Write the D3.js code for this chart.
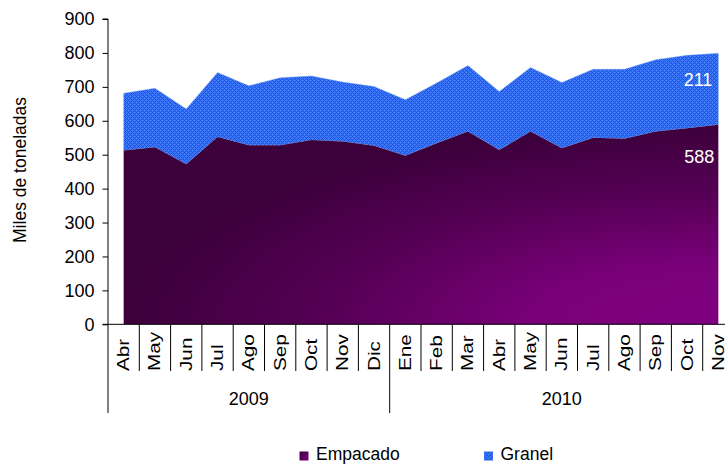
<!DOCTYPE html>
<html>
<head>
<meta charset="utf-8">
<script src="https://cdn.jsdelivr.net/npm/d3@7/dist/d3.min.js"></script>
<style>
  html, body { margin: 0; padding: 0; background: #fff; }
  svg { display: block; font-family: "Liberation Sans", Arial, sans-serif; }
</style>
</head>
<body>
<svg id="chart" width="725" height="464"></svg>
<script>
// ---- data ----
const months = ["Abr","May","Jun","Jul","Ago","Sep","Oct","Nov","Dic",
                "Ene","Feb","Mar","Abr","May","Jun","Jul","Ago","Sep","Oct","Nov"];
const years = ["2009","2010"];
const yearCounts = [9, 11];
const empacado = [512,522,472,552,528,528,543,539,526,
                  497,534,568,514,568,519,550,547,568,578,588];
const granel   = [169,174,163,190,175,199,189,175,175,
                  165,177,195,172,189,194,202,205,212,215,211];
const yTicks = [0,100,200,300,400,500,600,700,800,900];
const seriesNames = ["Empacado","Granel"];

// ---- layout ----
const svg = d3.select("#chart");
const x0 = 108, x1 = 734, yTop = 19, yBot = 324.3;
const idx = months.map((d, i) => i);
const x = d3.scaleBand().domain(idx).range([x0, x1]).padding(0);
const cx = i => x(i) + x.bandwidth() / 2;
const y = d3.scaleLinear().domain([0, 900]).range([yBot, yTop]);

const rows = idx.map(i => ({ i, Empacado: empacado[i], Granel: granel[i] }));
const stack = d3.stack().keys(seriesNames)(rows);

// ---- defs ----
const defs = svg.append("defs");
const rg = defs.append("radialGradient").attr("id", "gEmp")
  .attr("cx", 1).attr("cy", 1).attr("r", 1).attr("fx", 1).attr("fy", 1);
rg.append("stop").attr("offset", 0).attr("stop-color", "#800080");
rg.append("stop").attr("offset", 0.3).attr("stop-color", "#7a007a");
rg.append("stop").attr("offset", 0.65).attr("stop-color", "#560056");
rg.append("stop").attr("offset", 1).attr("stop-color", "#3c003b");

const lg = defs.append("linearGradient").attr("id", "gLeg")
  .attr("x1", 0).attr("y1", 0).attr("x2", 1).attr("y2", 1);
lg.append("stop").attr("offset", 0).attr("stop-color", "#3c003b");
lg.append("stop").attr("offset", 1).attr("stop-color", "#800080");

const pat = defs.append("pattern").attr("id", "pGran")
  .attr("patternUnits", "userSpaceOnUse").attr("width", 4).attr("height", 4);
pat.append("rect").attr("width", 4).attr("height", 4).attr("fill", "#3a78ff");
[[0,0],[1,1],[2,2],[3,3],[1,3],[3,1]].forEach(p =>
  pat.append("rect").attr("x", p[0]).attr("y", p[1]).attr("width", 1).attr("height", 1).attr("fill", "#2450c8"));

// ---- areas ----
const area = d3.area().x(d => cx(d.data.i)).y0(d => y(d[0])).y1(d => y(d[1]));
svg.append("path").datum(stack[1]).attr("d", area)
  .attr("fill", "url(#pGran)").attr("stroke", "#7aa4ff").attr("stroke-width", 0.4);
svg.append("path").datum(stack[0]).attr("d", area).attr("fill", "url(#gEmp)");

// ---- y axis ----
const yAxis = svg.append("g").attr("transform", `translate(${x0},0)`)
  .call(d3.axisLeft(y).tickValues(yTicks).tickSize(5.5).tickPadding(8).tickFormat(d3.format("d")));
yAxis.select(".domain").attr("stroke", "#000").attr("d", `M-5.5,${yTop}H0V${yBot}`);
yAxis.selectAll(".tick line").attr("stroke", "#000");
yAxis.selectAll(".tick text").attr("font-size", 18).attr("fill", "#000")
  .attr("font-family", "Liberation Sans, Arial, sans-serif");

// ---- x axis ----
const gx = svg.append("g");
gx.append("line").attr("x1", x0 - 5.5).attr("x2", 725).attr("y1", yBot).attr("y2", yBot)
  .attr("stroke", "#000");
let yearStarts = [0];
yearCounts.reduce((a, c) => { yearStarts.push(a + c); return a + c; }, 0);
idx.concat([months.length]).forEach(i => {
  const xx = i < months.length ? x(i) : x1;
  const long = yearStarts.includes(i);
  gx.append("line").attr("x1", xx).attr("x2", xx).attr("y1", yBot)
    .attr("y2", long ? 413 : 371).attr("stroke", "#000").attr("stroke-width", 1);
});
gx.selectAll("text.m").data(idx).enter().append("text").attr("class", "m")
  .attr("transform", i => `translate(${cx(i) + 5.5},371) rotate(-90) scale(1.22,0.95)`)
  .attr("font-size", 17).attr("fill", "#000").attr("text-anchor", "start")
  .text(i => months[i]);
years.forEach((yr, k) => {
  const a = yearStarts[k], b = yearStarts[k + 1];
  const xa = x(a), xb = b < months.length ? x(b) : x1;
  gx.append("text").attr("x", (xa + xb) / 2).attr("y", 405)
    .attr("text-anchor", "middle").attr("font-size", 18).attr("fill", "#000").text(yr);
});

// ---- y title ----
svg.append("text").attr("transform", "translate(26,170) rotate(-90)")
  .attr("text-anchor", "middle").attr("font-size", 17.5).attr("fill", "#000")
  .text("Miles de toneladas");

// ---- value labels ----
const last = months.length - 1;
svg.append("text").attr("x", cx(last) - 6).attr("y", y(empacado[last] + granel[last]) + 33)
  .attr("text-anchor", "end").attr("font-size", 18).attr("fill", "#fff").text(granel[last]);
svg.append("text").attr("x", cx(last) - 4).attr("y", y(empacado[last]) + 38)
  .attr("text-anchor", "end").attr("font-size", 18).attr("fill", "#fff").text(empacado[last]);

// ---- legend ----
const leg = svg.append("g");
const legItems = [{ name: "Empacado", fill: "url(#gLeg)", x: 299.5 },
                  { name: "Granel", fill: "url(#pGran)", x: 484 }];
legItems.forEach(it => {
  leg.append("rect").attr("x", it.x).attr("y", 451.5).attr("width", 9).attr("height", 9).attr("fill", it.fill);
  leg.append("text").attr("x", it.x + 16.5).attr("y", 460).attr("font-size", 17.5).attr("fill", "#000").text(it.name);
});
</script>
</body>
</html>
